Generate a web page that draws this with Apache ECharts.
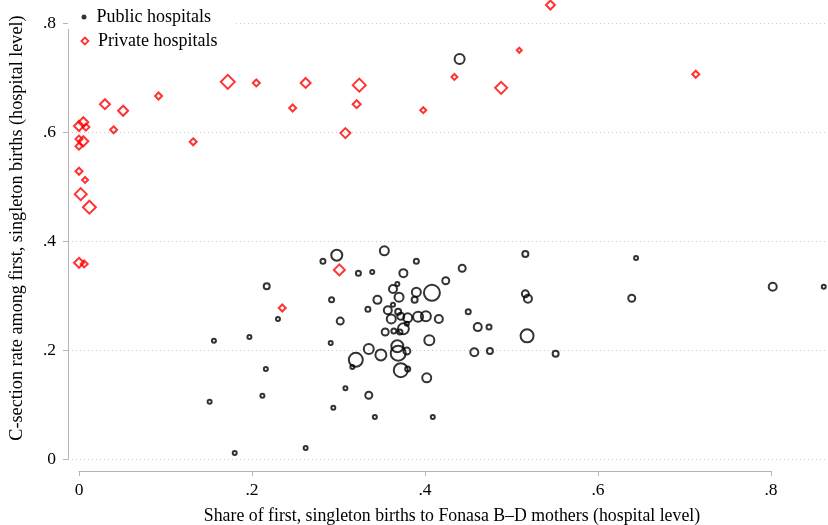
<!DOCTYPE html>
<html>
<head>
<meta charset="utf-8">
<script src="https://cdn.jsdelivr.net/npm/echarts@6/dist/echarts.min.js"></script>
<style>html,body{margin:0;padding:0;background:#fff}#c{width:828px;height:525px}</style>
</head>
<body>
<div id="c"></div>
<script>
// Public hospitals: share Fonasa B–D (x), C-section rate (y), marker size (births weight)
const publicX = [0.440,0.298,0.353,0.390,0.323,0.339,0.375,0.443,0.424,0.368,0.363,0.370,0.390,0.388,0.408,0.292,0.345,0.334,0.363,0.357,0.369,0.361,0.372,0.380,0.392,0.401,0.416,0.450,0.302,0.461,0.474,0.354,0.364,0.371,0.375,0.379,0.405,0.368,0.369,0.379,0.335,0.349,0.320,0.316,0.372,0.380,0.402,0.457,0.475,0.291,0.308,0.335,0.342,0.409,0.217,0.230,0.156,0.197,0.216,0.212,0.151,0.294,0.180,0.262,0.516,0.644,0.516,0.519,0.639,0.802,0.861,0.518,0.551,0.282];
const publicY = [0.734,0.374,0.382,0.363,0.341,0.343,0.341,0.350,0.327,0.321,0.312,0.297,0.306,0.292,0.305,0.292,0.292,0.275,0.283,0.273,0.270,0.257,0.262,0.259,0.261,0.262,0.257,0.270,0.253,0.242,0.242,0.233,0.235,0.233,0.239,0.248,0.218,0.207,0.194,0.198,0.202,0.191,0.182,0.169,0.163,0.165,0.149,0.196,0.198,0.213,0.130,0.117,0.077,0.077,0.317,0.257,0.217,0.224,0.165,0.116,0.105,0.094,0.011,0.020,0.376,0.369,0.303,0.294,0.295,0.316,0.316,0.226,0.193,0.363];
const publicSize = [10,11,9,5,5,4,8,7,7,4,8,9,9,6,16,5,8,5,4,8,6,9,7,9,10,10,8,5,7,8,5,7,5,5,11,4,10,12,15,7,10,11,14,4,14,5,9,8,6,4,4,7,4,4,6,4,4,4,4,4,4,4,4,4,6,4,7,8,7,8,4,13,6,5];

// Private hospitals
const privateX = [0.000,0.005,0.008,0.000,0.005,0.000,0.000,0.007,0.002,0.012,0.000,0.006,0.030,0.051,0.040,0.092,0.132,0.172,0.205,0.247,0.262,0.324,0.321,0.308,0.398,0.434,0.488,0.509,0.545,0.713,0.301,0.235];
const privateY = [0.611,0.618,0.609,0.587,0.583,0.574,0.528,0.512,0.486,0.462,0.360,0.358,0.651,0.639,0.604,0.666,0.582,0.692,0.690,0.644,0.690,0.686,0.651,0.598,0.640,0.701,0.681,0.750,0.833,0.706,0.347,0.277];
const privateSize = [10,10,7,7,10,7,7,6,12,13,10,7,10,10,7,7,7,14,7,7,10,13,8,10,6,6,12,5,9,7,11,7];

const xTicks = [0, 0.2, 0.4, 0.6, 0.8];
const yTicks = [0, 0.2, 0.4, 0.6, 0.8];
const seriesNames = ['Public hospitals', 'Private hospitals'];
const xTitle = 'Share of first, singleton births to Fonasa B–D mothers (hospital level)';
const yTitle = 'C-section rate among first, singleton births (hospital level)';

const FONT = 'Liberation Serif';
const fmt = v => {
  if (Math.abs(v) < 1e-9) return '0';
  return (Math.round(v * 10) / 10).toString().replace(/^0/, '');
};
const zip = (xs, ys, ss) => xs.map((x, i) => [x, ys[i], ss[i]]);

const chart = echarts.init(document.getElementById('c'), null, {renderer: 'canvas'});
const axisGray = '#b4b4b4';
chart.setOption({
  backgroundColor: '#fff',
  animation: false,
  textStyle: {fontFamily: FONT},
  grid: [
    {left: 68, right: 0, top: 0, bottom: 55, containLabel: false, outerBoundsMode: 'none'},   // data region
    {left: 68, right: 0, top: 23, bottom: 66, containLabel: false, outerBoundsMode: 'none'},  // y axis + gridlines
    {left: 79, right: 57, top: 470, bottom: 54, containLabel: false, outerBoundsMode: 'none'} // x axis
  ],
  xAxis: [
    {gridIndex: 0, type: 'value', min: (68 - 79) / 865, max: (828 - 79) / 865,
      axisLine: {show: false}, axisTick: {show: false}, axisLabel: {show: false}, splitLine: {show: false},
      name: xTitle, nameLocation: 'middle', nameGap: 37,
      nameTextStyle: {fontFamily: FONT, fontSize: 17.8, color: '#000', padding: [0, 0, 0, 8]}},
    {gridIndex: 1, type: 'value', min: 0, max: 1, show: false},
    {gridIndex: 2, type: 'value', min: xTicks[0], max: xTicks[xTicks.length - 1], interval: 0.2,
      axisLine: {show: true, lineStyle: {color: axisGray, width: 1}},
      axisTick: {show: true, length: 5, lineStyle: {color: axisGray}},
      axisLabel: {formatter: fmt, fontFamily: FONT, fontSize: 17.5, color: '#000', margin: 10},
      splitLine: {show: false}}
  ],
  yAxis: [
    {gridIndex: 0, type: 'value', min: -(470 - 459) / 545, max: 459 / 545,
      axisLine: {show: false}, axisTick: {show: false}, axisLabel: {show: false}, splitLine: {show: false},
      name: yTitle, nameLocation: 'middle', nameGap: 42,
      nameTextStyle: {fontFamily: FONT, fontSize: 18.2, color: '#000', padding: [0, 0, 0, 14]}},
    {gridIndex: 1, type: 'value', min: yTicks[0], max: yTicks[yTicks.length - 1], interval: 0.2,
      axisLine: {show: true, lineStyle: {color: axisGray, width: 1}},
      axisTick: {show: true, length: 5, lineStyle: {color: axisGray}},
      axisLabel: {formatter: fmt, fontFamily: FONT, fontSize: 17.5, color: '#000', margin: 12},
      splitLine: {show: true, lineStyle: {color: '#c8c8c8', type: [1, 3], width: 1}}},
    {gridIndex: 2, type: 'value', min: 0, max: 1, show: false}
  ],
  legend: [
    {left: 68, top: 0, orient: 'vertical', backgroundColor: '#fff',
      padding: [7, 24, 2, 13.5], itemWidth: 5, itemHeight: 5,
      selectedMode: false,
      textStyle: {fontFamily: FONT, fontSize: 18, color: '#000', lineHeight: 20, padding: [0, 0, 0, 5]},
      data: [{name: seriesNames[0], icon: 'circle', itemStyle: {color: '#000', borderWidth: 0}}]},
    {left: 68, top: 31, orient: 'vertical', backgroundColor: 'rgba(0,0,0,0)',
      padding: [0, 0, 0, 12.5], itemWidth: 7, itemHeight: 7,
      selectedMode: false,
      textStyle: {fontFamily: FONT, fontSize: 18, color: '#000', lineHeight: 20, padding: [0, 0, 0, 4.5]},
      data: [{name: seriesNames[1], icon: 'diamond', itemStyle: {color: '#fff', borderColor: '#ff0000', borderWidth: 1.8}}]}
  ],
  series: [
    {name: seriesNames[0], type: 'scatter', xAxisIndex: 0, yAxisIndex: 0,
      data: zip(publicX, publicY, publicSize),
      symbol: 'circle', symbolSize: v => v[2],
      itemStyle: {color: 'rgba(0,0,0,0)', borderColor: '#000', borderWidth: 2},
      emphasis: {disabled: true}},
    {name: seriesNames[1], type: 'scatter', xAxisIndex: 0, yAxisIndex: 0,
      data: zip(privateX, privateY, privateSize),
      symbol: 'diamond', symbolSize: v => v[2],
      itemStyle: {color: 'rgba(0,0,0,0)', borderColor: '#ff0000', borderWidth: 2},
      emphasis: {disabled: true}}
  ]
});
</script>
</body>
</html>
